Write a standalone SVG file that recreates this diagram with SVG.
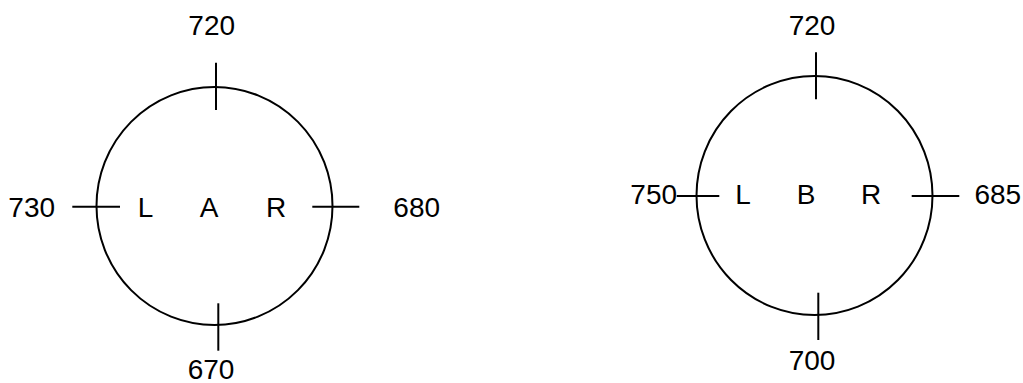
<svg xmlns="http://www.w3.org/2000/svg" width="1023" height="383" viewBox="0 0 1023 383">
<style>
.c{fill:none;stroke:#000;stroke-width:2}
.t{stroke:#000;stroke-width:2}
text{font-family:"Liberation Sans",Arial,sans-serif;font-size:28px;fill:#000;text-anchor:middle}
</style>
<rect width="1023" height="383" fill="#fff"/>
<g id="nodeA">
<ellipse class="c" cx="214.5" cy="206" rx="118" ry="119"/>
<text x="145.5" y="216.7">L</text>
<text x="209" y="216.7">A</text>
<text x="276" y="216.7">R</text>
</g>
<g id="nodeB">
<ellipse class="c" cx="814.5" cy="195.5" rx="118" ry="119.5"/>
<text x="743" y="204.3">L</text>
<text x="806" y="204.3">B</text>
<text x="871" y="204.3">R</text>
</g>
<g id="connectors">
<line class="t" x1="216" y1="62.7" x2="216" y2="110"/>
<line class="t" x1="218.3" y1="303.3" x2="218.3" y2="350.7"/>
<line class="t" x1="72.3" y1="206.7" x2="120" y2="206.7"/>
<line class="t" x1="312.3" y1="206.7" x2="359.3" y2="206.7"/>
<line class="t" x1="816" y1="52.3" x2="816" y2="99.3"/>
<line class="t" x1="818.3" y1="292.7" x2="818.3" y2="340"/>
<line class="t" x1="676.7" y1="196" x2="719.3" y2="196"/>
<line class="t" x1="911.7" y1="196" x2="959.3" y2="196"/>
</g>
<g id="labels">
<text x="211.7" y="35">720</text>
<text x="31.7" y="216.7">730</text>
<text x="416.7" y="216.7">680</text>
<text x="211" y="379">670</text>
<text x="812" y="35">720</text>
<text x="653.7" y="204.3">750</text>
<text x="997.8" y="204.3">685</text>
<text x="812" y="370">700</text>
</g>
</svg>
